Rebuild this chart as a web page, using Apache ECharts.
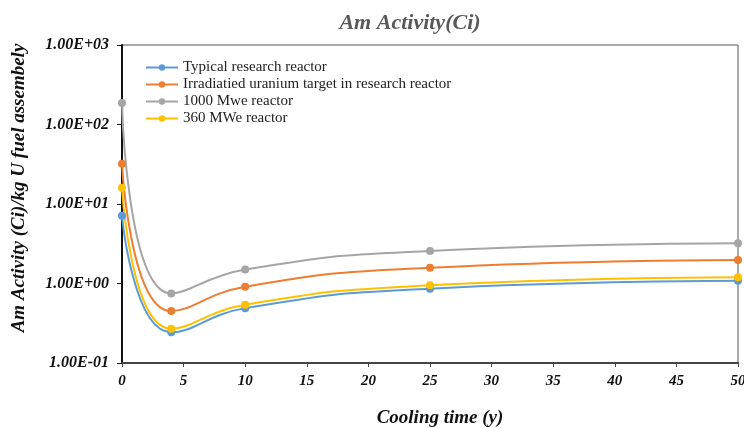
<!DOCTYPE html>
<html>
<head>
<meta charset="utf-8">
<script src="https://cdn.jsdelivr.net/npm/echarts@6/dist/echarts.min.js"></script>
</head>
<body style="margin:0;background:#fff">
<div id="main" style="width:744px;height:428px;"></div>
<script>
// cooling time (y)
var years = [0, 4, 10, 25, 50];
// Am activity (Ci) per kg U fuel assembly
var typicalResearch = [7.1, 0.243, 0.49, 0.86, 1.08];
var irradiatedTarget = [32, 0.45, 0.91, 1.58, 1.98];
var mwe1000 = [186, 0.75, 1.5, 2.57, 3.2];
var mwe360 = [16, 0.27, 0.54, 0.95, 1.2];

var seriesNames = ['Typical research reactor', 'Irradiatied uranium target in research reactor', '1000 Mwe reactor', '360 MWe reactor'];
var seriesColors = ['#5B9BD5', '#ED7D31', '#A5A5A5', '#FFC000'];
var seriesData = [typicalResearch, irradiatedTarget, mwe1000, mwe360];

var font = 'Liberation Serif';

function sciLabel(v) {
    var e = Math.round(Math.log10(v));
    var s = e < 0 ? '-' : '+';
    var a = Math.abs(e);
    return '1.00E' + s + (a < 10 ? '0' + a : a);
}

var chart = echarts.init(document.getElementById('main'));

var option = {
    animation: false,
    title: {
        text: 'Am Activity(Ci)',
        left: 405,
        textAlign: 'center',
        top: 7,
        textStyle: { fontFamily: font, fontStyle: 'italic', fontWeight: 'bold', fontSize: 22, color: '#595959' }
    },
    legend: {
        orient: 'vertical',
        left: 140,
        top: 55,
        itemGap: 2,
        itemWidth: 32,
        itemHeight: 8,
        data: seriesNames,
        textStyle: { fontFamily: font, fontSize: 15, lineHeight: 15, color: '#222' }
    },
    grid: {
        left: 122, right: 6, top: 45, bottom: 65,
        outerBoundsMode: 'none',
        containLabel: false,
        show: true, borderColor: '#555', borderWidth: 1
    },
    xAxis: {
        type: 'value',
        min: 0, max: 50, interval: 5,
        name: 'Cooling time (y)',
        nameLocation: 'middle',
        nameGap: 46,
        nameTextStyle: { fontFamily: font, fontStyle: 'italic', fontWeight: 'bold', fontSize: 19, color: '#111', padding: [0, 0, 0, 20] },
        axisLine: { lineStyle: { color: '#444', width: 2 } },
        axisTick: { inside: false, length: 4, lineStyle: { color: '#444' } },
        axisLabel: { fontFamily: font, fontStyle: 'italic', fontWeight: 'bold', fontSize: 15, color: '#111', margin: 11 },
        splitLine: { show: false }
    },
    yAxis: {
        type: 'log',
        min: 0.1, max: 1000,
        logBase: 10,
        name: 'Am Activity (Ci)/kg U fuel assembely',
        nameLocation: 'middle',
        nameGap: 93,
        nameTextStyle: { fontFamily: font, fontStyle: 'italic', fontWeight: 'bold', fontSize: 19, color: '#111', padding: [0, 0, 0, 32] },
        axisLine: { show: true, lineStyle: { color: '#111', width: 2 } },
        axisTick: { show: true, length: 5, lineStyle: { color: '#111' } },
        axisLabel: { fontFamily: font, fontStyle: 'italic', fontWeight: 'bold', fontSize: 16, color: '#111', margin: 13, formatter: sciLabel },
        splitLine: { show: false },
        minorTick: { show: false }
    },
    series: seriesNames.map(function (name, i) {
        return {
            name: name,
            type: 'line',
            smooth: 0.5,
            symbol: 'circle',
            symbolSize: 8,
            color: seriesColors[i],
            lineStyle: { width: 2 },
            data: years.map(function (x, j) { return [x, seriesData[i][j]]; })
        };
    })
};
chart.setOption(option);
</script>
</body>
</html>
